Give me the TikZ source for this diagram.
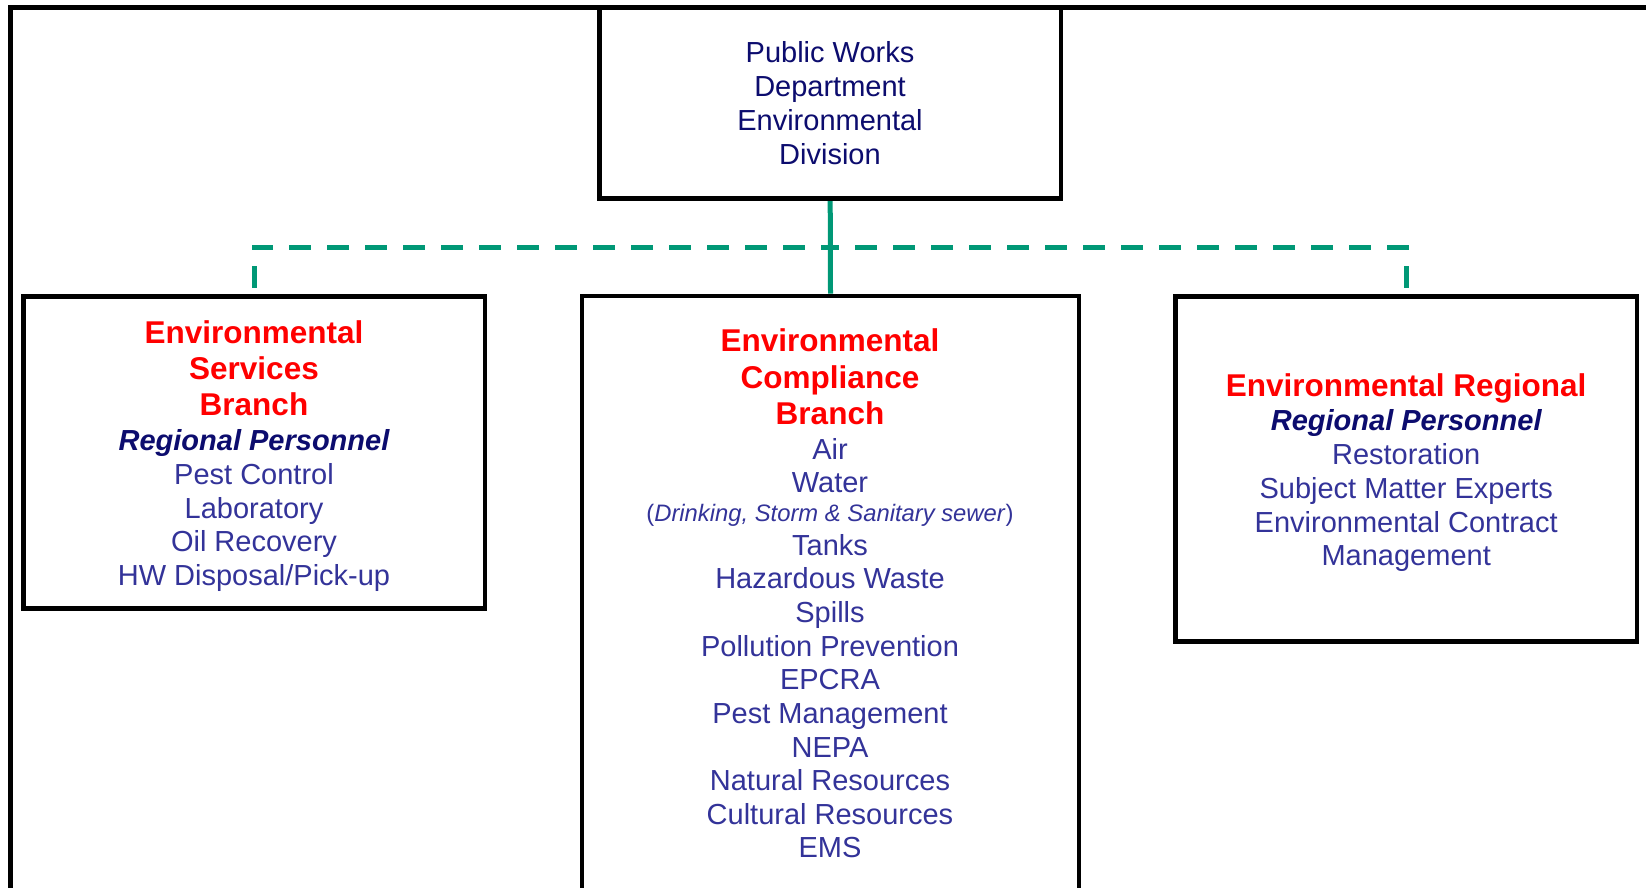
\documentclass[tikz,border=0pt]{standalone}
\usepackage{fontspec}
\setmainfont{Liberation Sans}
\usetikzlibrary{backgrounds}
\definecolor{navy}{RGB}{12,12,110}
\definecolor{itemblue}{RGB}{51,51,153}
\definecolor{headred}{RGB}{255,0,0}
\definecolor{linkgreen}{RGB}{0,152,118}
\tikzset{
  box/.style={draw=black, line width=4.5pt, inner sep=0pt, fill=white},
  headtxt/.style={anchor=base, inner sep=0pt, text=headred, font=\fontsize{31.5}{36}\selectfont\bfseries},
  itemtxt/.style={anchor=base, inner sep=0pt, text=itemblue, font=\fontsize{29}{33}\selectfont},
  toptxt/.style={anchor=base, inner sep=0pt, text=navy, font=\fontsize{29}{33}\selectfont},
  perstxt/.style={anchor=base, inner sep=0pt, text=navy, font=\fontsize{29}{33}\selectfont\bfseries\itshape},
  smalltxt/.style={anchor=base, inner sep=0pt, text=itemblue, font=\fontsize{23.8}{28}\selectfont},
  frameline/.style={draw=black, line width=5pt},
  solidlink/.style={draw=linkgreen, line width=5pt},
  dashlink/.style={draw=linkgreen, line width=5pt, dash pattern=on 22pt off 16pt, dash phase=31.3pt},
}
\begin{document}
\begin{tikzpicture}[x=1pt, y=-1pt]
\useasboundingbox (0,0) rectangle (1646,887);
\clip (0,0) rectangle (1646,887);

% outer frame (open on the right and bottom)
\draw[frameline] (1660,7.5) -- (10.8,7.5) -- (10.8,900);

% boxes
\node[box, minimum width=461.5pt, minimum height=191pt] (top) at (830.2,103) {};
\node[box, minimum width=461.5pt, minimum height=311.6pt] (left) at (254,452.5) {};
\node[box, minimum width=496.6pt, minimum height=620pt] (mid) at (830.5,605.8) {};
\node[box, minimum width=461.3pt, minimum height=344.8pt] (right) at (1406.2,469.1) {};

\coordinate (bus) at (830,247);

\begin{pgfonlayer}{background}
\draw[solidlink] (top.south) -- (mid.north);
\draw[dashlink] (left.north) -- (left.north |- bus) -- (bus);
\draw[dashlink] (right.north) -- (right.north |- bus) -- (bus);
\end{pgfonlayer}

% top box text
\node[toptxt] (t1) at (830,62.7) {Public Works};
\node[toptxt] (t2) at (830,96.5) {Department};
\node[toptxt] (t3) at (830,130.3) {Environmental};
\node[toptxt] (t4) at (830,164) {Division};

% left box text
\node[headtxt] (l1) at (254,343.3) {Environmental};
\node[headtxt] (l2) at (254,379.6) {Services};
\node[headtxt] (l3) at (254,415.9) {Branch};
\node[perstxt] (l4) at (254,450.7) {Regional Personnel};
\node[itemtxt] (l5) at (254,484.5) {Pest Control};
\node[itemtxt] (l6) at (254,518.1) {Laboratory};
\node[itemtxt] (l7) at (254,551.7) {Oil Recovery};
\node[itemtxt] (l8) at (254,585.5) {HW Disposal/Pick-up};

% middle box text
\node[headtxt] (m1) at (830,351.7) {Environmental};
\node[headtxt] (m2) at (830,388.3) {Compliance};
\node[headtxt] (m3) at (830,424.8) {Branch};
\node[itemtxt] (m4) at (830,459.6) {Air};
\node[itemtxt] (m5) at (830,492.8) {Water};
\node[smalltxt] (m6) at (830,521.7) {(\textit{Drinking, Storm \& Sanitary sewer})};
\node[itemtxt] (m7) at (830,555) {Tanks};
\node[itemtxt] (m8) at (830,588.5) {Hazardous Waste};
\node[itemtxt] (m9) at (830,622.4) {Spills};
\node[itemtxt] (m10) at (830,656) {Pollution Prevention};
\node[itemtxt] (m11) at (830,689.7) {EPCRA};
\node[itemtxt] (m12) at (830,723.3) {Pest Management};
\node[itemtxt] (m13) at (830,757) {NEPA};
\node[itemtxt] (m14) at (830,790.7) {Natural Resources};
\node[itemtxt] (m15) at (830,824.3) {Cultural Resources};
\node[itemtxt] (m16) at (830,857.8) {EMS};

% right box text
\node[headtxt] (r1) at (1406.2,396) {Environmental Regional};
\node[perstxt] (r2) at (1406.2,430) {Regional Personnel};
\node[itemtxt] (r3) at (1406.2,464.5) {Restoration};
\node[itemtxt] (r4) at (1406.2,498.2) {Subject Matter Experts};
\node[itemtxt] (r5) at (1406.2,532) {Environmental Contract};
\node[itemtxt] (r6) at (1406.2,565.7) {Management};
\end{tikzpicture}
\end{document}
